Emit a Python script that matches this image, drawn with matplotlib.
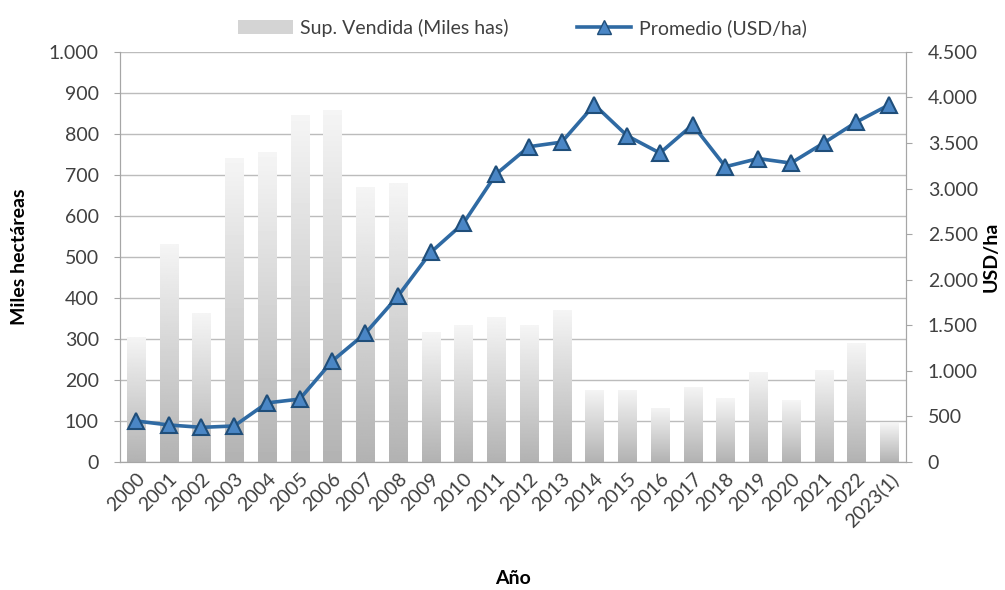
import numpy as np
import matplotlib.pyplot as plt
from matplotlib.ticker import FuncFormatter, MultipleLocator
from matplotlib.lines import Line2D
from matplotlib.patches import Patch

# %%
years = ["2000", "2001", "2002", "2003", "2004", "2005", "2006", "2007", "2008",
         "2009", "2010", "2011", "2012", "2013", "2014", "2015", "2016", "2017",
         "2018", "2019", "2020", "2021", "2022", "2023(1)"]
sup_vendida = [305, 532, 363, 741, 756, 846, 859, 671, 680, 317, 334, 353, 334,
               371, 176, 176, 132, 184, 156, 220, 151, 224, 290, 95]
promedio = [450, 406, 380, 395, 648, 690, 1110, 1410, 1820, 2300, 2620, 3160,
            3460, 3510, 3920, 3580, 3390, 3700, 3240, 3330, 3280, 3500, 3730, 3920]

plt.rcParams['font.family'] = ['Lato', 'DejaVu Sans']

def miles(v, pos):
    return f"{int(v):,}".replace(",", ".")

# %%
fig = plt.figure(figsize=(10.05, 5.9), dpi=100)
ax = fig.add_axes([0.119, 0.217, 0.782, 0.695])
ax2 = ax.twinx()

x = np.arange(len(years))
bars = ax.bar(x, sup_vendida, width=0.55, color="#d9d9d9", zorder=2)

# vertical gradient on every bar (light top -> gray bottom)
grad = np.linspace(0.96, 0.70, 100).reshape(-1, 1)
for b in bars:
    bx, by = b.get_x(), b.get_y()
    im = ax.imshow(grad, cmap="gray", vmin=0, vmax=1, aspect="auto",
                   extent=[bx, bx + b.get_width(), by, by + b.get_height()],
                   zorder=2.5, interpolation="bilinear")
    im.set_clip_path(b)

ax.set_xlim(-0.5, len(years) - 0.5)
ax.set_ylim(0, 1000)
ax.yaxis.set_major_locator(MultipleLocator(100))
ax.yaxis.set_major_formatter(FuncFormatter(miles))
ax.grid(axis="y", color="#bcbcbc", linewidth=1.0, zorder=0)
ax.set_axisbelow(True)

ax2.plot(x, promedio, color="#2f6aa3", linewidth=2.6, marker="^", markersize=12,
         markerfacecolor="#4a86c5", markeredgecolor="#1f4e7a", markeredgewidth=1.5,
         zorder=5)
ax2.set_ylim(0, 4500)
ax2.yaxis.set_major_locator(MultipleLocator(500))
ax2.yaxis.set_major_formatter(FuncFormatter(miles))

for a in (ax, ax2):
    for s in a.spines.values():
        s.set_color("#a6a6a6")
    a.spines["top"].set_visible(False)
    a.tick_params(axis="y", labelsize=14, colors="#a6a6a6", labelcolor="#404040",
                  length=4)

ax.tick_params(axis="y", pad=11)
ax2.tick_params(axis="y", pad=12)
ax.tick_params(axis="x", length=0, labelsize=14, labelcolor="#404040", pad=6)
ax.set_xticks(x)
ax.set_xticklabels(years, rotation=45, ha="right", rotation_mode="anchor")

ax.set_ylabel("Miles hectáreas", fontsize=14, fontweight="bold")
ax.yaxis.set_label_coords(-0.117, 0.5)
ax2.set_ylabel("USD/ha", fontsize=14, fontweight="bold")
ax2.yaxis.set_label_coords(1.098, 0.5)
ax.set_xlabel("Año", fontsize=14, fontweight="bold")
ax.xaxis.set_label_coords(0.5, -0.263)

handles = [Patch(facecolor="#d4d4d4", edgecolor="none"),
           Line2D([0], [0], color="#2f6aa3", linewidth=2.6, marker="^", markersize=10,
                  markerfacecolor="#4a86c5", markeredgecolor="#1f4e7a")]
fig.legend(handles, ["Sup. Vendida (Miles has)", "Promedio (USD/ha)"],
           loc="center", bbox_to_anchor=(0.52, 0.953), ncol=2, frameon=False,
           fontsize=14, handlelength=2.8, handletextpad=0.4, columnspacing=3.5,
           labelcolor="#404040")

fig.savefig("out.png", dpi=100)
